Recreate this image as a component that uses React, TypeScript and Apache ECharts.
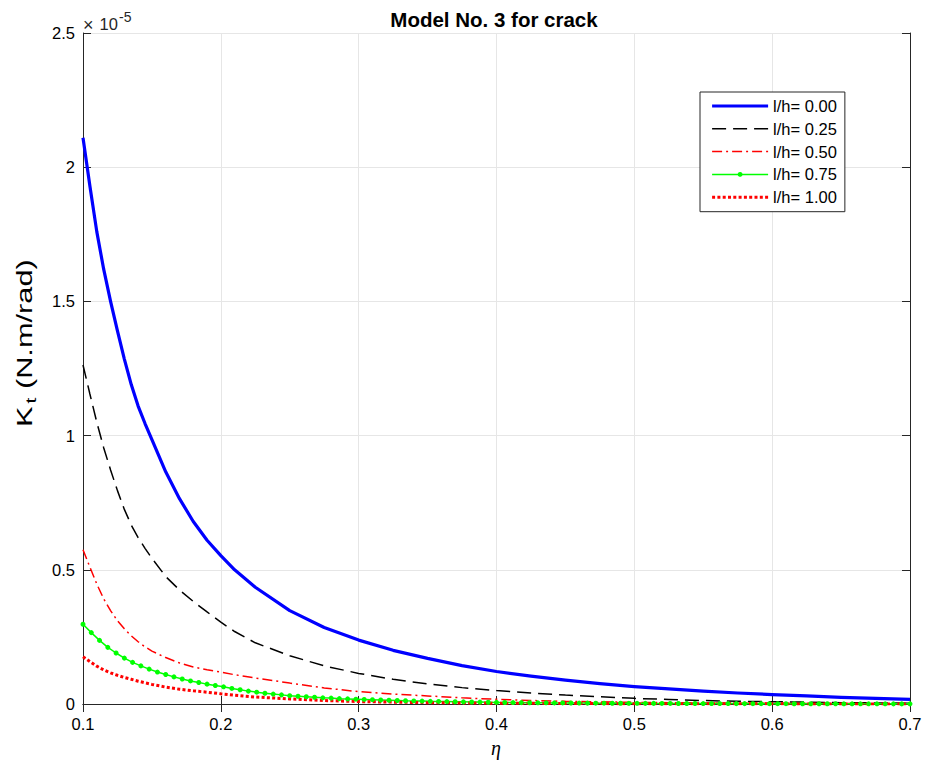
import React, { useEffect, useRef } from "react";
import * as echarts from "echarts";

// Shared eta sample positions for the smooth curves
const etaGrid = [
  0.1, 0.105, 0.11, 0.115, 0.12, 0.125, 0.13, 0.135, 0.14, 0.145, 0.15, 0.16, 0.17, 0.18, 0.19,
  0.2, 0.21, 0.225, 0.25, 0.275, 0.3, 0.325, 0.35, 0.375, 0.4, 0.425, 0.45, 0.475, 0.5, 0.525,
  0.55, 0.575, 0.6, 0.625, 0.65, 0.675, 0.7,
];

// Values in units of 1e-5 N.m/rad
const k000 = [
  2.11, 1.93, 1.76, 1.62, 1.5, 1.39, 1.285, 1.19, 1.11, 1.045, 0.985, 0.865, 0.765, 0.68, 0.61,
  0.553, 0.5, 0.435, 0.348, 0.285, 0.238, 0.2, 0.17, 0.143, 0.121, 0.104, 0.089, 0.076, 0.065,
  0.056, 0.048, 0.041, 0.035, 0.03, 0.025, 0.021, 0.017,
];
const k025 = [
  1.263, 1.155, 1.05, 0.955, 0.872, 0.795, 0.725, 0.667, 0.62, 0.58, 0.543, 0.475, 0.425, 0.382,
  0.343, 0.305, 0.27, 0.228, 0.18, 0.142, 0.114, 0.092, 0.075, 0.061, 0.05, 0.041, 0.0335, 0.027,
  0.021, 0.017, 0.013, 0.01, 0.0085, 0.007, 0.005, 0.004, 0.003,
];
const k050 = [
  0.575, 0.51, 0.447, 0.392, 0.348, 0.31, 0.28, 0.254, 0.232, 0.213, 0.197, 0.173, 0.153, 0.138,
  0.128, 0.119, 0.109, 0.097, 0.078, 0.06, 0.046, 0.037, 0.03, 0.023, 0.0175, 0.013, 0.01, 0.008,
  0.006, 0.005, 0.004, 0.003, 0.0025, 0.002, 0.0015, 0.0012, 0.001,
];
const k100 = [
  0.176, 0.158, 0.141, 0.127, 0.116, 0.107, 0.099, 0.092, 0.085, 0.079, 0.073, 0.063, 0.055, 0.049,
  0.044, 0.038, 0.033, 0.026, 0.019, 0.013, 0.009, 0.007, 0.005, 0.004, 0.003, 0.0025, 0.002,
  0.0015, 0.001, 0.0008, 0.0007, 0.0006, 0.0005, 0.0004, 0.0004, 0.0003, 0.0003,
];

// The marked series (l/h = 0.75) is sampled at its marker positions
const etaMarked = [
  0.1, 0.106, 0.112, 0.118, 0.124, 0.13, 0.136, 0.142, 0.148, 0.154, 0.16, 0.166, 0.172, 0.178,
  0.184, 0.19, 0.196, 0.202, 0.208, 0.214, 0.22, 0.226, 0.232, 0.238, 0.244, 0.25, 0.256, 0.262,
  0.268, 0.274, 0.28, 0.286, 0.292, 0.298, 0.304, 0.31, 0.316, 0.322, 0.328, 0.334, 0.34, 0.346,
  0.352, 0.358, 0.364, 0.37, 0.376, 0.382, 0.388, 0.394, 0.4, 0.406, 0.412, 0.418, 0.424, 0.43,
  0.436, 0.442, 0.448, 0.454, 0.46, 0.466, 0.472, 0.478, 0.484, 0.49, 0.496, 0.502, 0.508, 0.514,
  0.52, 0.526, 0.532, 0.538, 0.544, 0.55, 0.556, 0.562, 0.568, 0.574, 0.58, 0.586, 0.592, 0.598,
  0.604, 0.61, 0.616, 0.622, 0.628, 0.634, 0.64, 0.646, 0.652, 0.658, 0.664, 0.67, 0.676, 0.682,
  0.688, 0.694, 0.7,
];
const k075 = [
  0.297, 0.266, 0.237, 0.211, 0.19, 0.171, 0.155, 0.142, 0.13, 0.119, 0.11, 0.101, 0.093, 0.086,
  0.08, 0.074, 0.069, 0.064, 0.058, 0.053, 0.048, 0.044, 0.04, 0.037, 0.034, 0.031, 0.029, 0.027,
  0.025, 0.023, 0.022, 0.02, 0.019, 0.018, 0.017, 0.016, 0.015, 0.014, 0.013, 0.012, 0.0115, 0.011,
  0.01, 0.0095, 0.009, 0.0085, 0.008, 0.0075, 0.007, 0.0065, 0.006, 0.0057, 0.0054, 0.0051,
  0.0048, 0.0045, 0.0043, 0.0041, 0.0039, 0.0037, 0.0035, 0.0033, 0.0031, 0.003, 0.0028, 0.0027,
  0.0026, 0.0025, 0.0024, 0.0023, 0.0022, 0.0021, 0.002, 0.0019, 0.0018, 0.0017, 0.0016, 0.0016,
  0.0015, 0.0014, 0.0014, 0.0013, 0.0012, 0.0012, 0.0011, 0.0011, 0.001, 0.001, 0.0009, 0.0009,
  0.0008, 0.0008, 0.0007, 0.0007, 0.0007, 0.0006, 0.0006, 0.0006, 0.0005, 0.0005, 0.0005,
];

const seriesNames = ["l/h= 0.00", "l/h= 0.25", "l/h= 0.50", "l/h= 0.75", "l/h= 1.00"];
const titleText = "Model No. 3 for crack";

const FONT = "'Liberation Sans', Arial, Helvetica, sans-serif";

const pairs = (xs: number[], ys: number[]) => xs.map((x, i) => [x, ys[i]]);

export default function App() {
  const ref = useRef<HTMLDivElement>(null);
  useEffect(() => {
    const chart = echarts.init(ref.current!, null, { renderer: "svg" });
    const axisCommon = {
      type: "value",
      axisLine: { show: true, lineStyle: { color: "#262626", width: 1 } },
      axisTick: { show: true, inside: true, length: 8, lineStyle: { color: "#262626" } },
    };
    const hidden = { color: "transparent", borderWidth: 0 };
    const option: any = {
      animation: false,
      backgroundColor: "#ffffff",
      title: {
        text: titleText,
        left: 489,
        textAlign: "center",
        top: 4,
        textStyle: { fontFamily: FONT, fontSize: 20.5, fontWeight: "bold", color: "#000" },
      },
      grid: { left: 83, right: 26, top: 33, bottom: 64, containLabel: false },
      xAxis: [
        {
          ...axisCommon,
          position: "bottom",
          min: 0.1,
          max: 0.7,
          interval: 0.1,
          axisLabel: { fontFamily: FONT, fontSize: 16.5, color: "#000", margin: 11 },
          splitLine: { show: true, lineStyle: { color: "#e6e6e6", width: 1 } },
        },
        {
          ...axisCommon,
          position: "top",
          min: 0.1,
          max: 0.7,
          interval: 0.1,
          axisLabel: { show: false },
          splitLine: { show: false },
        },
      ],
      yAxis: [
        {
          ...axisCommon,
          position: "left",
          min: 0,
          max: 2.5,
          interval: 0.5,
          axisLabel: { fontFamily: FONT, fontSize: 16.5, color: "#000", margin: 8 },
          splitLine: { show: true, lineStyle: { color: "#e6e6e6", width: 1 } },
        },
        {
          ...axisCommon,
          position: "right",
          min: 0,
          max: 2.5,
          interval: 0.5,
          axisLabel: { show: false },
          splitLine: { show: false },
        },
      ],
      legend: {
        orient: "vertical",
        left: 700,
        top: 92,
        padding: [5.5, 8, 6, 10.5],
        itemWidth: 56,
        itemHeight: 6,
        itemGap: 5.8,
        backgroundColor: "#fff",
        borderColor: "#262626",
        borderWidth: 1,
        textStyle: { fontFamily: FONT, fontSize: 16.5, color: "#000", lineHeight: 17 },
        data: [
          { name: seriesNames[0], itemStyle: hidden, lineStyle: { width: 3.2 } },
          { name: seriesNames[1], itemStyle: hidden, lineStyle: { width: 1.5 } },
          { name: seriesNames[2], itemStyle: hidden, lineStyle: { width: 1.5 } },
          { name: seriesNames[3], lineStyle: { width: 1.5 } },
          { name: seriesNames[4], itemStyle: hidden, lineStyle: { width: 3 } },
        ],
      },
      series: [
        {
          name: seriesNames[0],
          type: "line",
          data: pairs(etaGrid, k000),
          symbol: "none",
          color: "#0000ff",
          lineStyle: { color: "#0000ff", width: 3.2, join: "round" },
        },
        {
          name: seriesNames[1],
          type: "line",
          data: pairs(etaGrid, k025),
          symbol: "none",
          color: "#000000",
          lineStyle: { color: "#000000", width: 1.5, type: [14, 7] },
        },
        {
          name: seriesNames[2],
          type: "line",
          data: pairs(etaGrid, k050),
          symbol: "none",
          color: "#ff0000",
          lineStyle: { color: "#ff0000", width: 1.5, type: [10, 4, 2, 4] },
        },
        {
          name: seriesNames[3],
          type: "line",
          data: pairs(etaMarked, k075),
          symbol: "circle",
          symbolSize: 5,
          showSymbol: true,
          color: "#00ff00",
          itemStyle: { color: "#00ff00" },
          lineStyle: { color: "#00ff00", width: 1.5 },
        },
        {
          name: seriesNames[4],
          type: "line",
          data: pairs(etaGrid, k100),
          symbol: "none",
          color: "#ff0000",
          lineStyle: { color: "#ff0000", width: 3, type: [3, 2.3] },
        },
      ],
      graphic: [
        {
          type: "text",
          x: 83,
          y: 24.5,
          style: {
            text: "×",
            fontFamily: FONT,
            fontSize: 18,
            fill: "#262626",
            verticalAlign: "middle",
          },
        },
        {
          type: "text",
          x: 99.5,
          y: 23.5,
          style: {
            text: "10",
            fontFamily: FONT,
            fontSize: 16.5,
            fill: "#262626",
            verticalAlign: "middle",
          },
        },
        {
          type: "text",
          x: 119,
          y: 16.5,
          style: {
            text: "-5",
            fontFamily: FONT,
            fontSize: 14,
            fill: "#262626",
            verticalAlign: "middle",
          },
        },
        {
          type: "text",
          x: 25,
          y: 343,
          rotation: Math.PI / 2,
          scaleX: 1.4,
          style: {
            text: "{k|K}{s|t}{k| (N.m/rad)}",
            align: "center",
            verticalAlign: "middle",
            fill: "#000",
            rich: {
              k: { fontFamily: FONT, fontSize: 22, fill: "#000", color: "#000" },
              s: { fontFamily: FONT, fontSize: 15, padding: [12, 0, 0, 2], color: "#000" },
            },
          },
        },
        {
          type: "text",
          x: 496,
          y: 748,
          style: {
            text: "η",
            fontFamily: "'Liberation Serif', 'DejaVu Serif', serif",
            fontStyle: "italic",
            fontSize: 20,
            fill: "#000",
            align: "center",
            verticalAlign: "middle",
          },
        },
      ],
    };
    chart.setOption(option);
    return () => chart.dispose();
  }, []);
  return (
    <div
      ref={ref}
      style={{ position: "fixed", left: 0, top: 0, width: 936, height: 768, background: "#fff" }}
    />
  );
}
